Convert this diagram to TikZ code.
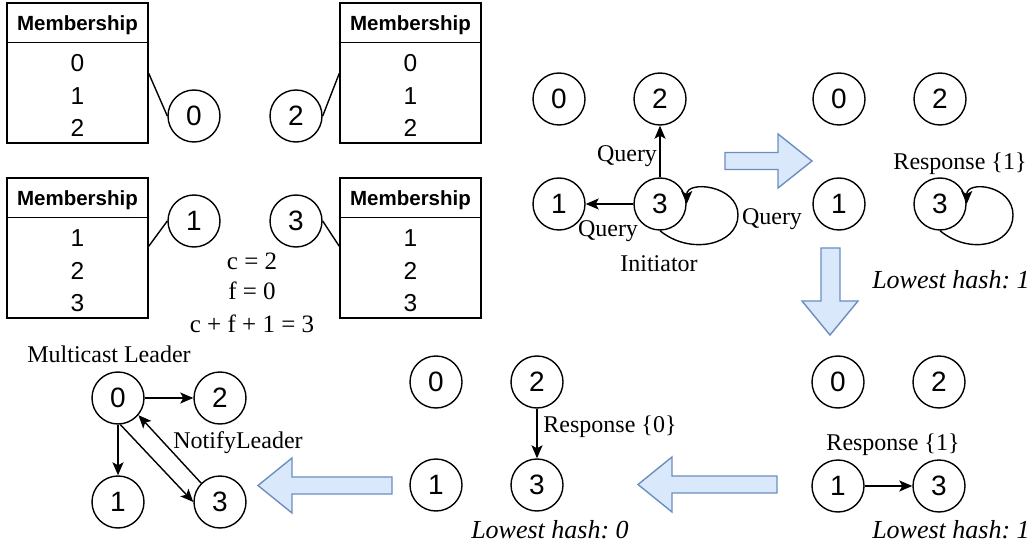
\documentclass[tikz,border=0pt]{standalone}
\usepackage{fontspec}
\setmainfont{Liberation Serif}
\setsansfont{Liberation Sans}
\usetikzlibrary{arrows.meta,calc}
\definecolor{barfill}{HTML}{DAE8FC}
\definecolor{bardraw}{HTML}{6C8EBF}
\frenchspacing
\begin{document}
\begin{tikzpicture}[x=1pt,y=-1pt,
  pnode/.style={circle,draw,line width=1.4pt,minimum size=52pt,inner sep=0pt,font={\sffamily\fontsize{28}{30}\selectfont}},
  tbl/.style={draw,line width=1.4pt,minimum width=141pt,minimum height=140pt,inner sep=0pt},
  hdr/.style={font={\sffamily\bfseries\fontsize{20.5}{24}\selectfont},anchor=base,inner sep=0pt},
  row/.style={font={\sffamily\fontsize{24.5}{28}\selectfont},anchor=base,inner sep=0pt},
  lbl/.style={font={\fontsize{24}{28}\selectfont},anchor=base,inner sep=0pt},
  eqn/.style={font={\fontsize{25}{28}\selectfont},anchor=base,inner sep=0pt},
  ital/.style={font={\itshape\fontsize{26}{30}\selectfont},anchor=base,inner sep=0pt},
  edge/.style={line width=1.4pt,-{Stealth[length=13pt,width=11pt,inset=3pt]}},
  link/.style={line width=1.4pt},
  barrow/.style={fill=barfill,draw=bardraw,line width=1.4pt,line join=miter}]
\useasboundingbox (0,0) rectangle (1034,548);

% ---------- membership tables ----------
\foreach \n/\cx/\cy/\a/\b/\c in {t1/77.5/73/0/1/2, t2/410.5/73/0/1/2, t3/77.5/248/1/2/3, t4/410.5/248/1/2/3}{
  \node[tbl] (\n) at (\cx,\cy) {};
  \draw[link] ($(\n.north west)+(0,40)$) -- ($(\n.north east)+(0,40)$);
  \node[hdr] at ($(\n.north)+(0,28)$) {Membership};
  \node[row] at ($(\n.north)+(0,69)$) {\a};
  \node[row] at ($(\n.north)+(0,102)$) {\b};
  \node[row] at ($(\n.north)+(0,134)$) {\c};
}
\node[pnode] (a0) at (194,116) {0};
\node[pnode] (a2) at (296,116) {2};
\node[pnode] (a1) at (194,221) {1};
\node[pnode] (a3) at (296,221) {3};
\draw[link] ($(t1.north east)+(0,71)$) -- (a0.west);
\draw[link] ($(t2.north west)+(0,71)$) -- (a2.east);
\draw[link] ($(t3.north east)+(0,69)$) -- (a1.west);
\draw[link] ($(t4.north west)+(0,69)$) -- (a3.east);
\node[eqn] (e1) at (252,270) {c = 2};
\node[eqn] (e2) at (252,300) {f = 0};
\node[eqn] (e3) at (252,332) {c + f + 1 = 3};

% ---------- graph 1: queries ----------
\node[pnode] (g1c0) at (559,99) {0};
\node[pnode] (g1c2) at (660,99) {2};
\node[pnode] (g1c1) at (559,204) {1};
\node[pnode] (g1c3) at (660,204) {3};
\draw[edge] (g1c3) -- (g1c2);
\draw[edge] (g1c3) -- (g1c1);
\coordinate (g1lp) at (738,215);
\draw[edge] (g1c3.south) .. controls +(30,25) and +(0,30) .. (g1lp) .. controls +(0,-30) and +(0,-24) .. (g1c3.east);
\node[lbl] (q1) at (627,162) {Query};
\node[lbl] (q2) at (608,237) {Query};
\node[lbl] (q3) at (772,225) {Query};
\node[lbl] (ini) at (659,272) {Initiator};

% ---------- graph 2: self response ----------
\node[pnode] (g2c0) at (839,99) {0};
\node[pnode] (g2c2) at (940,99) {2};
\node[pnode] (g2c1) at (839,204) {1};
\node[pnode] (g2c3) at (940,204) {3};
\coordinate (g2lp) at (1013,215);
\draw[edge] (g2c3.south) .. controls +(30,25) and +(0,30) .. (g2lp) .. controls +(0,-30) and +(0,-24) .. (g2c3.east);
\node[lbl] (r1) at (960,170) {Response \{1\}};
\node[ital] (h1) at (951,289) {Lowest hash: 1};

% ---------- graph 3 ----------
\node[pnode] (g3c0) at (838,382) {0};
\node[pnode] (g3c2) at (939,382) {2};
\node[pnode] (g3c1) at (838,486) {1};
\node[pnode] (g3c3) at (939,486) {3};
\draw[edge] (g3c1) -- (g3c3);
\node[lbl] (r2) at (893,450) {Response \{1\}};
\node[ital] (h2) at (951,538) {Lowest hash: 1};

% ---------- graph 4 ----------
\node[pnode] (g4c0) at (436,382) {0};
\node[pnode] (g4c2) at (537,382) {2};
\node[pnode] (g4c1) at (436,485) {1};
\node[pnode] (g4c3) at (537,485) {3};
\draw[edge] (g4c2) -- (g4c3);
\node[lbl] (r3) at (610,432) {Response \{0\}};
\node[ital] (h3) at (550,538) {Lowest hash: 0};

% ---------- graph 5: leader ----------
\node[pnode] (g5c0) at (118,398) {0};
\node[pnode] (g5c2) at (220,398) {2};
\node[pnode] (g5c1) at (118,502) {1};
\node[pnode] (g5c3) at (220,502) {3};
\draw[edge] (g5c0) -- (g5c2);
\draw[edge] (g5c0) -- (g5c1);
\draw[edge] (g5c0.-85) -- (g5c3.west);
\draw[edge] (g5c3.135) -- (g5c0.-40);
\node[lbl] (ml) at (109,362) {Multicast Leader};
\node[lbl] (nl) at (238,448) {NotifyLeader};

% ---------- block arrows ----------
\draw[barrow] (725,152.5) -- (778,152.5) -- (778,134) -- (812,161) -- (778,188) -- (778,169.5) -- (725,169.5) -- cycle;
\draw[barrow] (821,248) -- (840,248) -- (840,301) -- (858,301) -- (830,335) -- (802,301) -- (821,301) -- cycle;
\draw[barrow] (777,476) -- (672,476) -- (672,457) -- (638,484.5) -- (672,512) -- (672,493) -- (777,493) -- cycle;
\draw[barrow] (392,477) -- (292,477) -- (292,458) -- (258,485.5) -- (292,513) -- (292,494) -- (392,494) -- cycle;
\end{tikzpicture}
\end{document}
